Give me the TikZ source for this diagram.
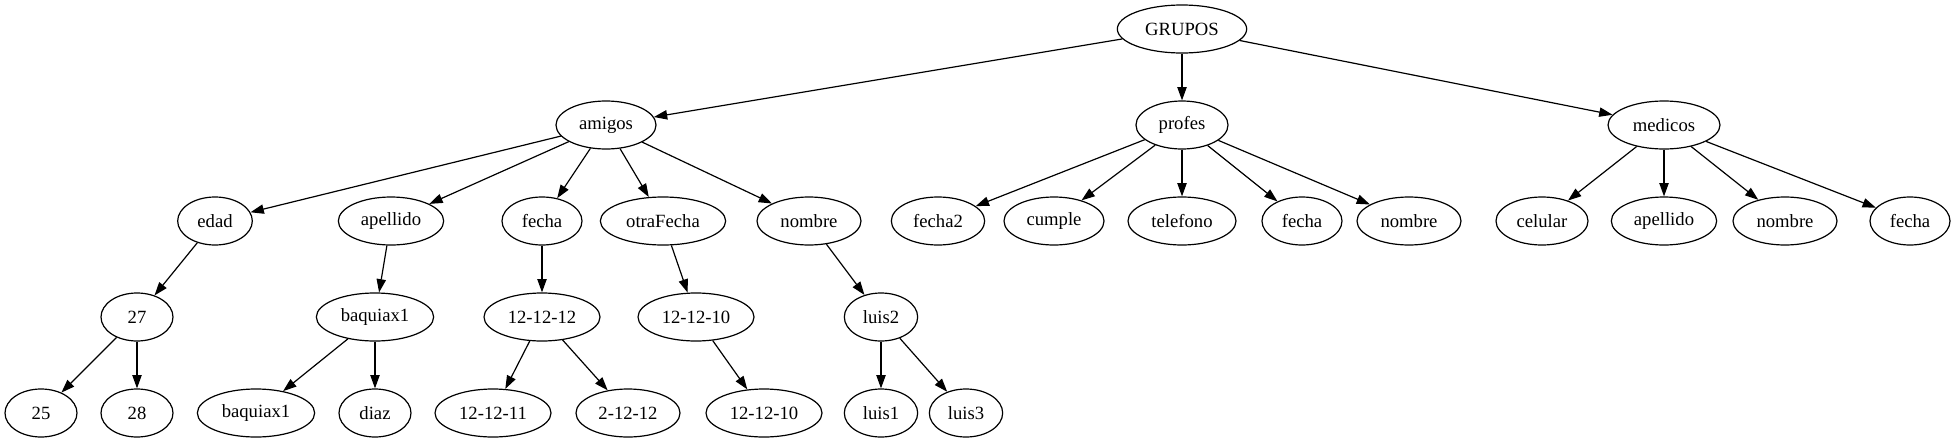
\documentclass[tikz,border=0pt]{standalone}
\usepackage{fontspec}
\setmainfont{Liberation Serif}
\usetikzlibrary{shapes.geometric,arrows.meta}
\begin{document}
\begin{tikzpicture}[x=0.75pt,y=-0.75pt,
  nd/.style={ellipse,draw,line width=0.9pt,minimum height=36pt,inner sep=0pt,minimum width=#1,font=\fontsize{14}{16}\selectfont},
  ar/.style={-{Triangle[length=10pt,width=7pt]},line width=0.9pt}]
\useasboundingbox (0,0) rectangle (1957,443);
% rank 0
\node[nd=97pt] (grupos) at (1182,29) {GRUPOS};
% rank 1
\node[nd=75pt] (amigos) at (606,125) {amigos};
\node[nd=69pt] (profes) at (1182,125) {profes};
\node[nd=84pt] (medicos) at (1664,125) {medicos};
% rank 2
\node[nd=56pt] (edad) at (215,221) {edad};
\node[nd=79pt] (apellidoA) at (391,221) {apellido};
\node[nd=60pt] (fechaA) at (542,221) {fecha};
\node[nd=94pt] (otraFecha) at (663,221) {otraFecha};
\node[nd=78pt] (nombreA) at (809,221) {nombre};
\node[nd=70pt] (fecha2) at (938,221) {fecha2};
\node[nd=75pt] (cumple) at (1054,221) {cumple};
\node[nd=81pt] (telefono) at (1182,221) {telefono};
\node[nd=60pt] (fechaP) at (1302,221) {fecha};
\node[nd=78pt] (nombreP) at (1409,221) {nombre};
\node[nd=69pt] (celular) at (1542,221) {celular};
\node[nd=79pt] (apellidoM) at (1664,221) {apellido};
\node[nd=78pt] (nombreM) at (1785,221) {nombre};
\node[nd=60pt] (fechaM) at (1910,221) {fecha};
% rank 3
\node[nd=54pt] (n27) at (137,317) {27};
\node[nd=88pt] (baq) at (375,317) {baquiax1};
\node[nd=87pt] (d121212) at (542,317) {12-12-12};
\node[nd=87pt] (d121210) at (696,317) {12-12-10};
\node[nd=55pt] (luis2) at (881,317) {luis2};
% rank 4
\node[nd=54pt] (n25) at (41,413) {25};
\node[nd=54pt] (n28) at (137,413) {28};
\node[nd=88pt] (baq2) at (256,413) {baquiax1};
\node[nd=54pt] (diaz) at (375,413) {diaz};
\node[nd=87pt] (d121211) at (493,413) {12-12-11};
\node[nd=78pt] (d21212) at (628,413) {2-12-12};
\node[nd=87pt] (d121210b) at (764,413) {12-12-10};
\node[nd=55pt] (luis1) at (881,413) {luis1};
\node[nd=55pt] (luis3) at (966,413) {luis3};
% edges
\draw[ar] (grupos) -- (amigos);
\draw[ar] (grupos) -- (profes);
\draw[ar] (grupos) -- (medicos);
\draw[ar] (amigos) -- (edad);
\draw[ar] (amigos) -- (apellidoA);
\draw[ar] (amigos) -- (fechaA);
\draw[ar] (amigos) -- (otraFecha);
\draw[ar] (amigos) -- (nombreA);
\draw[ar] (profes) -- (fecha2);
\draw[ar] (profes) -- (cumple);
\draw[ar] (profes) -- (telefono);
\draw[ar] (profes) -- (fechaP);
\draw[ar] (profes) -- (nombreP);
\draw[ar] (medicos) -- (celular);
\draw[ar] (medicos) -- (apellidoM);
\draw[ar] (medicos) -- (nombreM);
\draw[ar] (medicos) -- (fechaM);
\draw[ar] (edad) -- (n27);
\draw[ar] (apellidoA) -- (baq);
\draw[ar] (fechaA) -- (d121212);
\draw[ar] (otraFecha) -- (d121210);
\draw[ar] (nombreA) -- (luis2);
\draw[ar] (n27) -- (n25);
\draw[ar] (n27) -- (n28);
\draw[ar] (baq) -- (baq2);
\draw[ar] (baq) -- (diaz);
\draw[ar] (d121212) -- (d121211);
\draw[ar] (d121212) -- (d21212);
\draw[ar] (d121210) -- (d121210b);
\draw[ar] (luis2) -- (luis1);
\draw[ar] (luis2) -- (luis3);
\end{tikzpicture}
\end{document}
